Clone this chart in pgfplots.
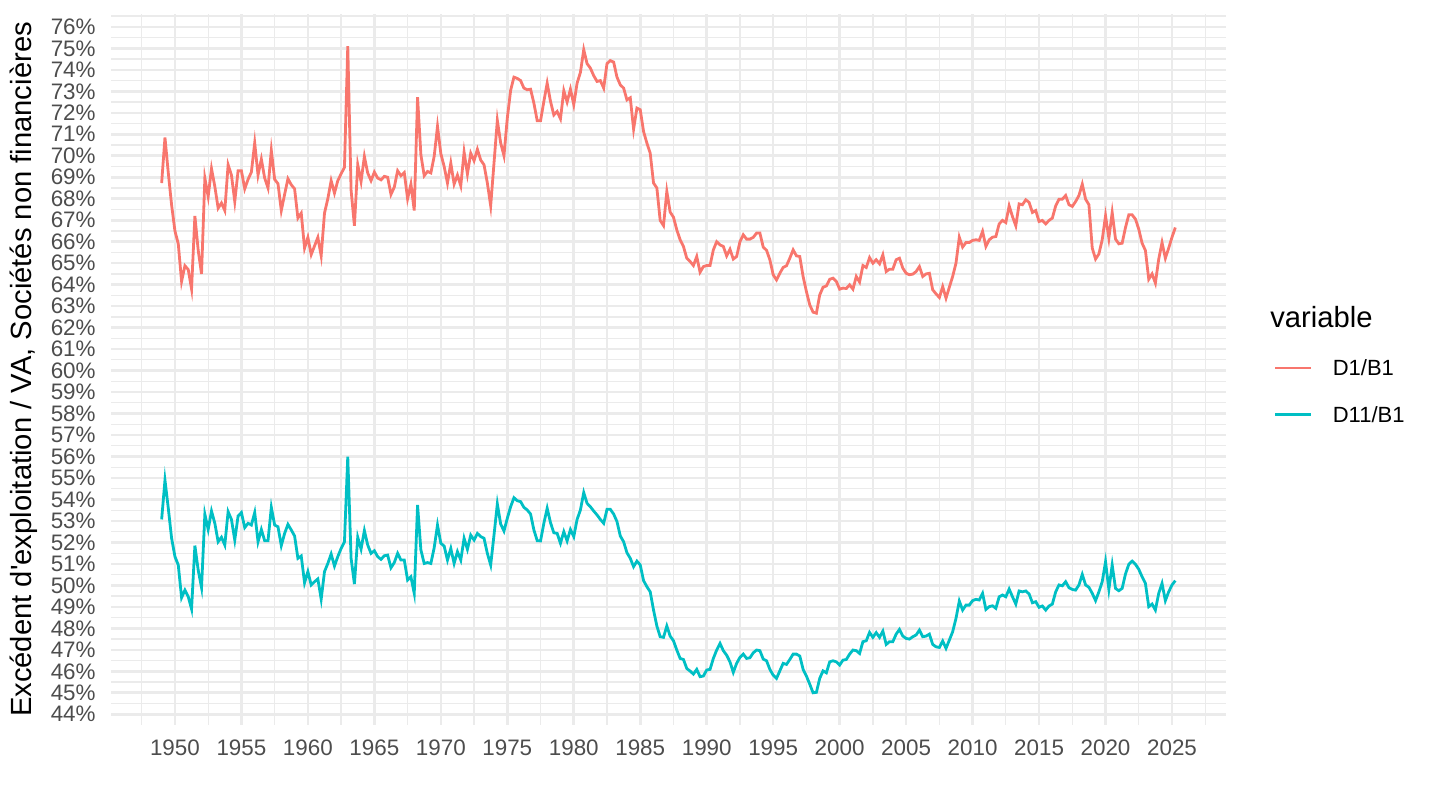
\documentclass[border=0pt]{standalone}
\usepackage{fontspec}
\setmainfont{Liberation Sans}
\usepackage{pgfplots}
\usepackage{pgfplotstable}
\pgfplotsset{compat=1.18}

\definecolor{gggrid}{HTML}{EBEBEB}
\definecolor{ggtext}{HTML}{4D4D4D}
\definecolor{ggred}{HTML}{F8766D}
\definecolor{ggteal}{HTML}{00BFC4}

% D1/B1, quarterly
\pgfplotstableread{
year val
1949.0 68.73
1949.25 70.85
1949.5 69.2
1949.75 67.7
1950.0 66.5
1950.25 65.9
1950.5 64.15
1950.75 64.88
1951.0 64.7
1951.25 63.8
1951.5 67.2
1951.75 65.6
1952.0 64.5
1952.25 68.96
1952.5 68.1
1952.75 69.4
1953.0 68.57
1953.25 67.56
1953.5 67.8
1953.75 67.45
1954.0 69.58
1954.25 69.1
1954.5 67.87
1954.75 69.3
1955.0 69.3
1955.25 68.46
1955.5 68.9
1955.75 69.24
1956.0 70.6
1956.25 69.1
1956.5 69.84
1956.75 68.96
1957.0 68.5
1957.25 70.25
1957.5 68.9
1957.75 68.7
1958.0 67.45
1958.25 68.2
1958.5 68.93
1958.75 68.65
1959.0 68.46
1959.25 67.1
1959.5 67.33
1959.75 65.7
1960.0 66.2
1960.25 65.4
1960.5 65.8
1960.75 66.2
1961.0 65.34
1961.25 67.33
1961.5 68.0
1961.75 68.84
1962.0 68.26
1962.25 68.84
1962.5 69.16
1962.75 69.46
1963.0 75.1
1963.25 68.4
1963.5 66.74
1963.75 69.58
1964.0 68.8
1964.25 69.97
1964.5 69.2
1964.75 68.84
1965.0 69.24
1965.25 68.96
1965.5 68.88
1965.75 69.04
1966.0 69.0
1966.25 68.2
1966.5 68.54
1966.75 69.3
1967.0 69.07
1967.25 69.22
1967.5 68.0
1967.75 68.68
1968.0 67.45
1968.25 72.73
1968.5 70.05
1968.75 69.07
1969.0 69.27
1969.25 69.2
1969.5 69.97
1969.75 71.37
1970.0 70.1
1970.25 69.5
1970.5 68.73
1970.75 69.66
1971.0 68.68
1971.25 69.1
1971.5 68.6
1971.75 70.17
1972.0 69.15
1972.25 70.12
1972.5 69.77
1972.75 70.3
1973.0 69.8
1973.25 69.58
1973.5 68.73
1973.75 67.67
1974.0 69.66
1974.25 71.65
1974.5 70.6
1974.75 70.0
1975.0 71.75
1975.25 73.04
1975.5 73.66
1975.75 73.6
1976.0 73.5
1976.25 73.15
1976.5 73.07
1976.75 73.1
1977.0 72.45
1977.25 71.63
1977.5 71.63
1977.75 72.53
1978.0 73.38
1978.25 72.53
1978.5 71.9
1978.75 72.06
1979.0 71.72
1979.25 73.03
1979.5 72.5
1979.75 73.1
1980.0 72.38
1980.25 73.38
1980.5 73.88
1980.75 74.94
1981.0 74.29
1981.25 74.08
1981.5 73.73
1981.75 73.46
1982.0 73.5
1982.25 73.15
1982.5 74.29
1982.75 74.43
1983.0 74.36
1983.25 73.66
1983.5 73.3
1983.75 73.15
1984.0 72.6
1984.25 72.7
1984.5 71.24
1984.75 72.22
1985.0 72.14
1985.25 71.13
1985.5 70.59
1985.75 70.12
1986.0 68.73
1986.25 68.5
1986.5 66.99
1986.75 66.75
1987.0 68.34
1987.25 67.38
1987.5 67.14
1987.75 66.55
1988.0 66.09
1988.25 65.78
1988.5 65.23
1988.75 65.08
1989.0 64.89
1989.25 65.31
1989.5 64.58
1989.75 64.84
1990.0 64.89
1990.25 64.89
1990.5 65.62
1990.75 66.0
1991.0 65.85
1991.25 65.78
1991.5 65.34
1991.75 65.65
1992.0 65.19
1992.25 65.31
1992.5 66.0
1992.75 66.32
1993.0 66.12
1993.25 66.12
1993.5 66.2
1993.75 66.4
1994.0 66.4
1994.25 65.75
1994.5 65.6
1994.75 65.16
1995.0 64.46
1995.25 64.22
1995.5 64.53
1995.75 64.8
1996.0 64.88
1996.25 65.23
1996.5 65.62
1996.75 65.34
1997.0 65.31
1997.25 64.38
1997.5 63.68
1997.75 63.06
1998.0 62.72
1998.25 62.67
1998.5 63.52
1998.75 63.88
1999.0 63.94
1999.25 64.25
1999.5 64.3
1999.75 64.15
2000.0 63.79
2000.25 63.84
2000.5 63.82
2000.75 63.99
2001.0 63.79
2001.25 64.38
2001.5 64.12
2001.75 64.89
2002.0 64.8
2002.25 65.26
2002.5 65.0
2002.75 65.16
2003.0 64.97
2003.25 65.39
2003.5 64.61
2003.75 64.72
2004.0 64.72
2004.25 65.16
2004.5 65.23
2004.75 64.77
2005.0 64.53
2005.25 64.46
2005.5 64.49
2005.75 64.61
2006.0 64.84
2006.25 64.38
2006.5 64.5
2006.75 64.53
2007.0 63.76
2007.25 63.57
2007.5 63.4
2007.75 63.91
2008.0 63.37
2008.25 63.88
2008.5 64.38
2008.75 65.0
2009.0 66.21
2009.25 65.75
2009.5 65.96
2009.75 65.96
2010.0 66.06
2010.25 66.09
2010.5 66.06
2010.75 66.48
2011.0 65.78
2011.25 66.09
2011.5 66.21
2011.75 66.24
2012.0 66.83
2012.25 66.99
2012.5 66.89
2012.75 67.67
2013.0 67.17
2013.25 66.74
2013.5 67.76
2013.75 67.72
2014.0 67.95
2014.25 67.83
2014.5 67.36
2014.75 67.45
2015.0 66.94
2015.25 66.99
2015.5 66.83
2015.75 66.99
2016.0 67.1
2016.25 67.67
2016.5 67.98
2016.75 67.98
2017.0 68.15
2017.25 67.72
2017.5 67.64
2017.75 67.87
2018.0 68.15
2018.25 68.68
2018.5 67.98
2018.75 67.72
2019.0 65.7
2019.25 65.19
2019.5 65.43
2019.75 66.09
2020.0 67.2
2020.25 66.16
2020.5 67.36
2020.75 66.12
2021.0 65.9
2021.25 65.93
2021.5 66.66
2021.75 67.25
2022.0 67.25
2022.25 67.05
2022.5 66.58
2022.75 65.93
2023.0 65.59
2023.25 64.25
2023.5 64.5
2023.75 64.07
2024.0 65.19
2024.25 65.96
2024.5 65.23
2024.75 65.7
2025.0 66.21
2025.25 66.66
}\tabDun

% D11/B1, quarterly
\pgfplotstableread{
year val
1949.0 53.07
1949.25 54.9
1949.5 53.59
1949.75 52.19
1950.0 51.34
1950.25 50.95
1950.5 49.43
1950.75 49.78
1951.0 49.47
1951.25 48.9
1951.5 51.85
1951.75 50.71
1952.0 49.9
1952.25 53.31
1952.5 52.6
1952.75 53.46
1953.0 52.89
1953.25 52.03
1953.5 52.24
1953.75 51.88
1954.0 53.43
1954.25 53.07
1954.5 52.11
1954.75 53.23
1955.0 53.39
1955.25 52.69
1955.5 52.89
1955.75 52.81
1956.0 53.39
1956.25 52.03
1956.5 52.6
1956.75 52.08
1957.0 52.08
1957.25 53.63
1957.5 52.81
1957.75 52.73
1958.0 51.85
1958.25 52.42
1958.5 52.84
1958.75 52.58
1959.0 52.3
1959.25 51.26
1959.5 51.37
1959.75 50.12
1960.0 50.64
1960.25 50.02
1960.5 50.17
1960.75 50.3
1961.0 49.36
1961.25 50.64
1961.5 51.02
1961.75 51.46
1962.0 50.9
1962.25 51.34
1962.5 51.72
1962.75 52.03
1963.0 55.99
1963.25 51.26
1963.5 50.06
1963.75 52.24
1964.0 51.69
1964.25 52.55
1964.5 51.88
1964.75 51.49
1965.0 51.61
1965.25 51.34
1965.5 51.21
1965.75 51.38
1966.0 51.41
1966.25 50.82
1966.5 51.06
1966.75 51.49
1967.0 51.18
1967.25 51.18
1967.5 50.25
1967.75 50.4
1968.0 49.63
1968.25 53.74
1968.5 51.65
1968.75 51.02
1969.0 51.06
1969.25 51.02
1969.5 51.75
1969.75 52.81
1970.0 51.96
1970.25 51.83
1970.5 51.18
1970.75 51.72
1971.0 51.02
1971.25 51.57
1971.5 51.18
1971.75 52.19
1972.0 51.68
1972.25 52.34
1972.5 52.11
1972.75 52.42
1973.0 52.27
1973.25 52.19
1973.5 51.49
1973.75 50.95
1974.0 52.34
1974.25 53.79
1974.5 52.86
1974.75 52.53
1975.0 53.12
1975.25 53.66
1975.5 54.08
1975.75 53.94
1976.0 53.9
1976.25 53.63
1976.5 53.51
1976.75 53.32
1977.0 52.58
1977.25 52.08
1977.5 52.07
1977.75 52.89
1978.0 53.59
1978.25 52.92
1978.5 52.45
1978.75 52.42
1979.0 51.96
1979.25 52.5
1979.5 52.07
1979.75 52.6
1980.0 52.27
1980.25 53.07
1980.5 53.51
1980.75 54.32
1981.0 53.82
1981.25 53.66
1981.5 53.46
1981.75 53.28
1982.0 53.07
1982.25 52.89
1982.5 53.54
1982.75 53.54
1983.0 53.32
1983.25 52.97
1983.5 52.3
1983.75 52.03
1984.0 51.52
1984.25 51.26
1984.5 50.87
1984.75 51.13
1985.0 50.95
1985.25 50.22
1985.5 49.94
1985.75 49.7
1986.0 48.85
1986.25 48.11
1986.5 47.61
1986.75 47.58
1987.0 48.11
1987.25 47.64
1987.5 47.42
1987.75 46.99
1988.0 46.6
1988.25 46.55
1988.5 46.13
1988.75 46.01
1989.0 45.87
1989.25 46.09
1989.5 45.75
1989.75 45.78
1990.0 46.06
1990.25 46.09
1990.5 46.6
1990.75 46.99
1991.0 47.3
1991.25 46.96
1991.5 46.75
1991.75 46.44
1992.0 45.95
1992.25 46.37
1992.5 46.65
1992.75 46.8
1993.0 46.6
1993.25 46.63
1993.5 46.86
1993.75 46.99
1994.0 46.96
1994.25 46.57
1994.5 46.49
1994.75 46.09
1995.0 45.82
1995.25 45.67
1995.5 46.02
1995.75 46.37
1996.0 46.32
1996.25 46.55
1996.5 46.8
1996.75 46.8
1997.0 46.71
1997.25 46.09
1997.5 45.78
1997.75 45.4
1998.0 45.0
1998.25 45.02
1998.5 45.67
1998.75 46.02
1999.0 45.93
1999.25 46.44
1999.5 46.49
1999.75 46.44
2000.0 46.29
2000.25 46.52
2000.5 46.55
2000.75 46.8
2001.0 46.99
2001.25 46.96
2001.5 46.83
2001.75 47.38
2002.0 47.42
2002.25 47.81
2002.5 47.58
2002.75 47.8
2003.0 47.58
2003.25 47.87
2003.5 47.25
2003.75 47.38
2004.0 47.38
2004.25 47.73
2004.5 47.95
2004.75 47.64
2005.0 47.53
2005.25 47.5
2005.5 47.61
2005.75 47.69
2006.0 47.92
2006.25 47.61
2006.5 47.64
2006.75 47.73
2007.0 47.25
2007.25 47.14
2007.5 47.11
2007.75 47.41
2008.0 47.07
2008.25 47.45
2008.5 47.84
2008.75 48.46
2009.0 49.27
2009.25 48.85
2009.5 49.08
2009.75 49.08
2010.0 49.29
2010.25 49.35
2010.5 49.32
2010.75 49.63
2011.0 48.88
2011.25 49.01
2011.5 49.05
2011.75 48.93
2012.0 49.47
2012.25 49.55
2012.5 49.47
2012.75 49.83
2013.0 49.47
2013.25 49.13
2013.5 49.74
2013.75 49.7
2014.0 49.74
2014.25 49.6
2014.5 49.19
2014.75 49.24
2015.0 48.98
2015.25 49.04
2015.5 48.85
2015.75 49.04
2016.0 49.13
2016.25 49.7
2016.5 50.02
2016.75 49.98
2017.0 50.17
2017.25 49.89
2017.5 49.81
2017.75 49.78
2018.0 50.02
2018.25 50.51
2018.5 50.02
2018.75 49.91
2019.0 49.63
2019.25 49.29
2019.5 49.7
2019.75 50.17
2020.0 51.1
2020.25 49.81
2020.5 50.95
2020.75 49.86
2021.0 49.75
2021.25 49.86
2021.5 50.53
2021.75 50.98
2022.0 51.13
2022.25 50.98
2022.5 50.75
2022.75 50.4
2023.0 50.09
2023.25 49.01
2023.5 49.13
2023.75 48.85
2024.0 49.63
2024.25 50.09
2024.5 49.29
2024.75 49.7
2025.0 50.02
2025.25 50.22
}\tabDonze

\begin{document}
\begin{tikzpicture}
\useasboundingbox (-55.5bp,-42.5bp) rectangle (664.5bp,362.5bp);
\begin{axis}[
    scale only axis,
    width=557.5bp, height=355.5bp,
    at={(0,0)}, anchor=south west,
    xmin=1945.19, xmax=2029.06,
    ymin=43.5, ymax=76.6,
    xtick={1950,1955,1960,1965,1970,1975,1980,1985,1990,1995,2000,2005,2010,2015,2020,2025},
    xticklabels={1950,1955,1960,1965,1970,1975,1980,1985,1990,1995,2000,2005,2010,2015,2020,2025},
    minor xtick={1947.5,1952.5,...,2027.5},
    ytick={44,45,...,76},
    yticklabels={44\%,45\%,46\%,47\%,48\%,49\%,50\%,51\%,52\%,53\%,54\%,55\%,56\%,57\%,58\%,59\%,60\%,61\%,62\%,63\%,64\%,65\%,66\%,67\%,68\%,69\%,70\%,71\%,72\%,73\%,74\%,75\%,76\%},
    minor ytick={44.5,45.5,...,76.5},
    grid=both,
    major grid style={draw=gggrid, line width=1.3bp},
    minor grid style={draw=gggrid, line width=0.65bp},
    axis line style={draw=none},
    major tick length=0pt, minor tick length=0pt,
    tick label style={font=\fontsize{11.2bp}{13bp}\selectfont, text=ggtext, inner sep=0pt},
    xticklabel style={anchor=north, yshift=-7.25bp},
    yticklabel style={anchor=east, xshift=-7.5bp},
    ylabel={Excédent d\textquotesingle exploitation / VA, Sociétés non financières},
    every axis y label/.style={at={(axis description cs:0,0.5)}, xshift=-39.65bp, rotate=90, anchor=base, inner sep=0pt, font=\fontsize{14.6bp}{17bp}\selectfont},
    legend cell align=left,
    legend image code/.code={\draw[#1] (0bp,0bp) -- (18bp,0bp);},
    legend style={at={(axis description cs:1.04269,0.51364)}, anchor=north west, draw=none, fill=none, inner sep=0pt,
        font=\fontsize{11bp}{13bp}\selectfont,
        cells={anchor=west},
        nodes={inner sep=0pt, text height=7.9bp, text depth=0pt},
        row sep=15.4bp, column sep=10bp},
    clip mode=individual,
]
\addplot[ggred, line width=1.4bp] table[x=year, y=val] {\tabDun};
\addlegendentry{D1/B1}
\addplot[ggteal, line width=1.4bp] table[x=year, y=val] {\tabDonze};
\addlegendentry{D11/B1}
\node[anchor=base west, inner sep=0pt, font=\fontsize{14.6bp}{17bp}\selectfont] at (axis description cs:1.03946,0.55837) {variable};
\end{axis}
\end{tikzpicture}
\end{document}
